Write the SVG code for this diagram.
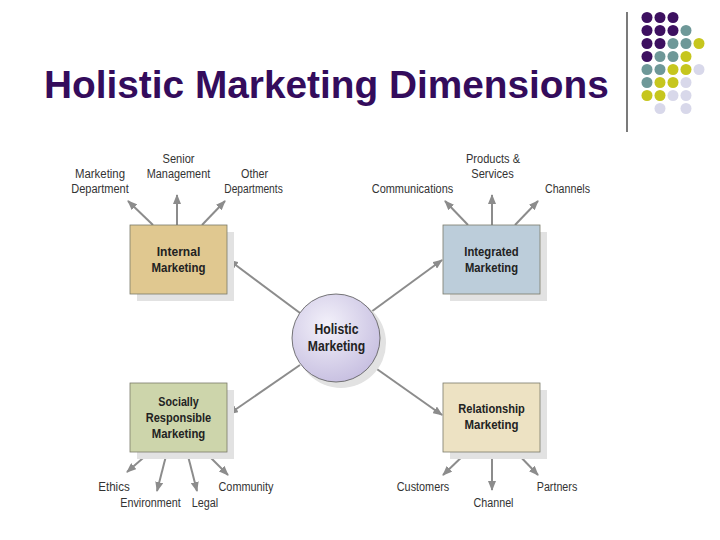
<svg xmlns="http://www.w3.org/2000/svg" width="720" height="540" viewBox="0 0 720 540">
<defs>
<style>
.title{font-family:"Liberation Sans",Arial,sans-serif;font-weight:bold;font-size:38.8px;fill:#340c5c}
.lbl{font-family:"Liberation Sans",Arial,sans-serif;font-size:12.5px;fill:#333;text-anchor:middle}
.bt{font-family:"Liberation Sans",Arial,sans-serif;font-weight:bold;font-size:13.5px;fill:#222;text-anchor:middle}
.ct{font-family:"Liberation Sans",Arial,sans-serif;font-weight:bold;font-size:14.5px;fill:#222;text-anchor:middle}
.box{stroke:#7a7a6a;stroke-width:0.8}
.shadow{fill:#e2e2e2}
.conn line{stroke:#8c8c8c;stroke-width:2;marker-end:url(#ah)}
.p{fill:#3d1060}.t{fill:#6e9898}.y{fill:#c6c61e}.l{fill:#d8d8ea}
</style>
<marker id="ah" viewBox="0 0 10 8" refX="9" refY="4" markerWidth="10" markerHeight="8" markerUnits="userSpaceOnUse" orient="auto">
<path d="M0,0 L10,4 L0,8 z" fill="#8c8c8c"/>
</marker>
<radialGradient id="cg" cx="40%" cy="35%" r="70%">
<stop offset="0" stop-color="#f3f1fa"/>
<stop offset="1" stop-color="#c6bee0"/>
</radialGradient>
</defs>
<rect width="720" height="540" fill="#ffffff"/>
<text class="title" x="44" y="98">Holistic Marketing Dimensions</text>
<line x1="627" y1="12" x2="627" y2="132" stroke="#222" stroke-width="1.2"/>
<g id="dots">
<circle class="p" cx="647" cy="17.5" r="5.5"/><circle class="p" cx="660" cy="17.5" r="5.5"/><circle class="p" cx="673" cy="17.5" r="5.5"/>
<circle class="p" cx="647" cy="30.5" r="5.5"/><circle class="p" cx="660" cy="30.5" r="5.5"/><circle class="p" cx="673" cy="30.5" r="5.5"/><circle class="t" cx="686" cy="30.5" r="5.5"/>
<circle class="p" cx="647" cy="43.5" r="5.5"/><circle class="p" cx="660" cy="43.5" r="5.5"/><circle class="t" cx="673" cy="43.5" r="5.5"/><circle class="t" cx="686" cy="43.5" r="5.5"/><circle class="y" cx="699" cy="43.5" r="5.5"/>
<circle class="p" cx="647" cy="56.5" r="5.5"/><circle class="t" cx="660" cy="56.5" r="5.5"/><circle class="t" cx="673" cy="56.5" r="5.5"/><circle class="y" cx="686" cy="56.5" r="5.5"/>
<circle class="t" cx="647" cy="69.5" r="5.5"/><circle class="t" cx="660" cy="69.5" r="5.5"/><circle class="y" cx="673" cy="69.5" r="5.5"/><circle class="y" cx="686" cy="69.5" r="5.5"/><circle class="l" cx="699" cy="69.5" r="5.5"/>
<circle class="t" cx="647" cy="82.5" r="5.5"/><circle class="y" cx="660" cy="82.5" r="5.5"/><circle class="y" cx="673" cy="82.5" r="5.5"/><circle class="l" cx="686" cy="82.5" r="5.5"/>
<circle class="y" cx="647" cy="95.5" r="5.5"/><circle class="y" cx="660" cy="95.5" r="5.5"/><circle class="l" cx="673" cy="95.5" r="5.5"/><circle class="l" cx="686" cy="95.5" r="5.5"/>
<circle class="l" cx="660" cy="108.5" r="5.5"/><circle class="l" cx="686" cy="108.5" r="5.5"/>
</g>
<g id="connectors" class="conn">
<line x1="300" y1="313" x2="229" y2="260"/>
<line x1="371" y1="312" x2="442" y2="260"/>
<line x1="300" y1="365" x2="229" y2="414"/>
<line x1="374" y1="367" x2="442" y2="415"/>
<line x1="153" y1="225" x2="128" y2="201"/>
<line x1="177" y1="225" x2="177" y2="195"/>
<line x1="202" y1="225" x2="225" y2="201"/>
<line x1="468" y1="225" x2="445" y2="201"/>
<line x1="492" y1="225" x2="492" y2="195"/>
<line x1="515" y1="225" x2="538" y2="201"/>
<line x1="150" y1="452" x2="127" y2="472"/>
<line x1="167" y1="452" x2="157" y2="491"/>
<line x1="187" y1="452" x2="197" y2="491"/>
<line x1="205" y1="452" x2="228" y2="475"/>
<line x1="467" y1="452" x2="443" y2="475"/>
<line x1="492" y1="452" x2="492" y2="490"/>
<line x1="516" y1="452" x2="538" y2="475"/>
</g>
<g id="internal">
<rect class="shadow" x="137" y="232" width="97" height="69"/>
<rect class="box" x="130" y="225" width="97" height="69" fill="#e0c890"/>
<text class="bt" x="178.5" y="256" textLength="43.5" lengthAdjust="spacingAndGlyphs">Internal</text>
<text class="bt" x="178.5" y="272" textLength="54" lengthAdjust="spacingAndGlyphs">Marketing</text>
</g>
<g id="integrated">
<rect class="shadow" x="450" y="232" width="97" height="69"/>
<rect class="box" x="443" y="225" width="97" height="69" fill="#bccdda"/>
<text class="bt" x="491.5" y="256" textLength="54.5" lengthAdjust="spacingAndGlyphs">Integrated</text>
<text class="bt" x="491.5" y="272" textLength="53" lengthAdjust="spacingAndGlyphs">Marketing</text>
</g>
<g id="socially">
<rect class="shadow" x="137" y="390" width="97" height="69"/>
<rect class="box" x="130" y="383" width="97" height="69" fill="#cdd5ab"/>
<text class="bt" x="178.5" y="406" textLength="40.5" lengthAdjust="spacingAndGlyphs">Socially</text>
<text class="bt" x="178.5" y="422" textLength="65.5" lengthAdjust="spacingAndGlyphs">Responsible</text>
<text class="bt" x="178.5" y="438" textLength="53.5" lengthAdjust="spacingAndGlyphs">Marketing</text>
</g>
<g id="relationship">
<rect class="shadow" x="450" y="390" width="97" height="69"/>
<rect class="box" x="443" y="383" width="97" height="69" fill="#ede2c3"/>
<text class="bt" x="491.5" y="413" textLength="66.5" lengthAdjust="spacingAndGlyphs">Relationship</text>
<text class="bt" x="491.5" y="429" textLength="54" lengthAdjust="spacingAndGlyphs">Marketing</text>
</g>
<g id="holistic">
<circle cx="341" cy="343" r="45" fill="#e2e2e2"/>
<circle cx="336" cy="338" r="44" fill="url(#cg)" stroke="#555" stroke-width="0.8"/>
<text class="ct" x="336.5" y="334" textLength="44" lengthAdjust="spacingAndGlyphs">Holistic</text>
<text class="ct" x="336.5" y="351" textLength="57.5" lengthAdjust="spacingAndGlyphs">Marketing</text>
</g>
<g id="labels">
<text class="lbl" x="100" y="178" textLength="50" lengthAdjust="spacingAndGlyphs">Marketing</text>
<text class="lbl" x="100" y="193" textLength="57.5" lengthAdjust="spacingAndGlyphs">Department</text>
<text class="lbl" x="178.5" y="163" textLength="32" lengthAdjust="spacingAndGlyphs">Senior</text>
<text class="lbl" x="178.5" y="178" textLength="63.5" lengthAdjust="spacingAndGlyphs">Management</text>
<text class="lbl" x="254.5" y="178" textLength="27" lengthAdjust="spacingAndGlyphs">Other</text>
<text class="lbl" x="253.5" y="193" textLength="58.5" lengthAdjust="spacingAndGlyphs">Departments</text>
<text class="lbl" x="493" y="163" textLength="54" lengthAdjust="spacingAndGlyphs">Products &amp;</text>
<text class="lbl" x="492.5" y="178" textLength="42.5" lengthAdjust="spacingAndGlyphs">Services</text>
<text class="lbl" x="412.5" y="193" textLength="81.5" lengthAdjust="spacingAndGlyphs">Communications</text>
<text class="lbl" x="567.5" y="193" textLength="45" lengthAdjust="spacingAndGlyphs">Channels</text>
<text class="lbl" x="114" y="491" textLength="31.5" lengthAdjust="spacingAndGlyphs">Ethics</text>
<text class="lbl" x="150.5" y="507" textLength="60.5" lengthAdjust="spacingAndGlyphs">Environment</text>
<text class="lbl" x="205" y="507" textLength="26.5" lengthAdjust="spacingAndGlyphs">Legal</text>
<text class="lbl" x="246" y="491" textLength="55" lengthAdjust="spacingAndGlyphs">Community</text>
<text class="lbl" x="423" y="491" textLength="52.5" lengthAdjust="spacingAndGlyphs">Customers</text>
<text class="lbl" x="493.5" y="507" textLength="40" lengthAdjust="spacingAndGlyphs">Channel</text>
<text class="lbl" x="557" y="491" textLength="40.5" lengthAdjust="spacingAndGlyphs">Partners</text>
</g>
</svg>
